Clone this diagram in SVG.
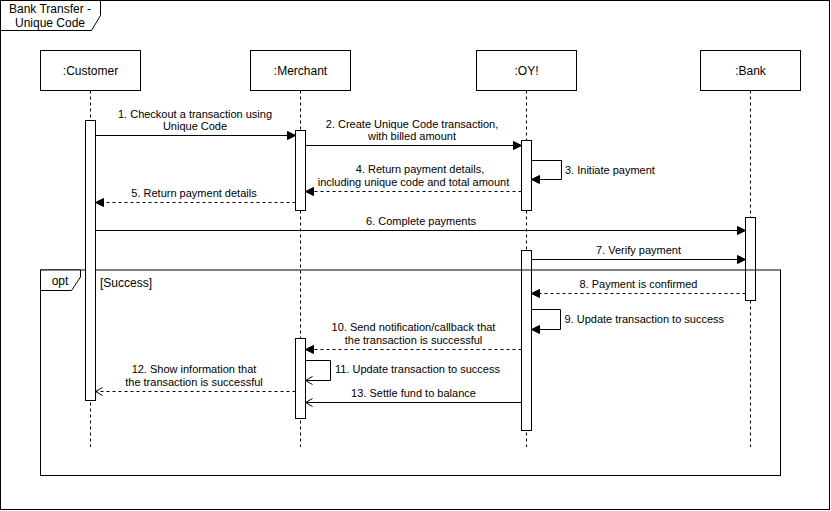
<svg xmlns="http://www.w3.org/2000/svg" width="831" height="511" viewBox="0 0 831 511">
<style>
  .frame{fill:none;stroke:#000;stroke-width:1}
  .lbl{fill:#fff;stroke:#000;stroke-width:1}
  .box{fill:#fff;stroke:#000;stroke-width:1}
  .life{stroke:#000;stroke-width:1;stroke-dasharray:3 3;fill:none}
  .act{fill:#fff;stroke:#000;stroke-width:1}
  .msg{fill:none;stroke:#000;stroke-width:1}
  .ret{fill:none;stroke:#000;stroke-width:1;stroke-dasharray:3 3}
  text{font-family:"Liberation Sans",Arial,Helvetica,sans-serif;fill:#000}
  .t12{font-size:12px}
  .t11{font-size:11px}
  .c{text-anchor:middle}
</style>
<defs>
  <marker id="block" viewBox="-9 -5 10 10" refX="0" refY="0" markerWidth="10" markerHeight="10" markerUnits="userSpaceOnUse" orient="auto">
    <path d="M0,0 L-8,-4 L-8,4 Z" fill="#000" stroke="#000" stroke-width="1" stroke-dasharray="none"/>
  </marker>
  <marker id="open" viewBox="-9 -6 10 12" refX="0" refY="0" markerWidth="10" markerHeight="12" markerUnits="userSpaceOnUse" orient="auto">
    <path d="M-7,-4 L0,0 L-7,4" fill="none" stroke="#000" stroke-width="1" stroke-dasharray="none"/>
  </marker>
</defs>
<rect width="831" height="511" fill="#fff"/>

<g id="outer-frame">
  <rect class="frame" x="0.5" y="0.5" width="829" height="509"/>
  <path class="lbl" d="M0.5,0.5 H100.5 V15.5 L91.5,30.5 H0.5 Z"/>
  <text class="t12 c" x="50" y="12.7">Bank Transfer -</text>
  <text class="t12 c" x="50" y="27">Unique Code</text>
</g>

<g id="customer">
  <line class="life" x1="90.5" y1="90.5" x2="90.5" y2="447"/>
  <rect class="box" x="40.5" y="50.5" width="100" height="40"/>
  <text class="t12 c" x="90.5" y="74.5">:Customer</text>
</g>
<g id="merchant">
  <line class="life" x1="300.5" y1="90.5" x2="300.5" y2="447"/>
  <rect class="box" x="250.5" y="50.5" width="100" height="40"/>
  <text class="t12 c" x="300.5" y="74.5">:Merchant</text>
</g>
<g id="oy">
  <line class="life" x1="526.5" y1="90.5" x2="526.5" y2="447"/>
  <rect class="box" x="476.5" y="50.5" width="100" height="40"/>
  <text class="t12 c" x="526.5" y="74.5">:OY!</text>
</g>
<g id="bank">
  <line class="life" x1="750.5" y1="90.5" x2="750.5" y2="447"/>
  <rect class="box" x="700.5" y="50.5" width="100" height="40"/>
  <text class="t12 c" x="750.5" y="74.5">:Bank</text>
</g>

<g id="activations-back">
  <rect id="merchant-act1" class="act" x="295.5" y="130.5" width="10" height="80"/>
  <rect id="oy-act1" class="act" x="521.5" y="140.5" width="10" height="70"/>
  <rect id="bank-act" class="act" x="745.5" y="217.5" width="10" height="83"/>
  <rect id="oy-act2" class="act" x="521.5" y="250.5" width="10" height="180"/>
</g>

<g id="opt-frame">
  <rect class="frame" x="40.5" y="270" width="740" height="205.5"/>
  <path class="lbl" d="M40.5,270 H80.5 V277 L71.5,290.5 H40.5 Z"/>
  <text class="t12 c" x="60" y="285">opt</text>
  <text class="t12" x="100" y="286.5">[Success]</text>
</g>

<g id="activations-front">
  <rect id="customer-act" class="act" x="85.5" y="120.5" width="10" height="280"/>
  <rect id="merchant-act2" class="act" x="295.5" y="338.5" width="10" height="80"/>
</g>

<g id="connectors">
  <!-- 1 -->
  <line class="msg" x1="95.5" y1="135.5" x2="295.5" y2="135.5" marker-end="url(#block)"/>
  <text class="t11 c" x="195" y="117.5">1. Checkout a transaction using</text>
  <text class="t11 c" x="195" y="130">Unique Code</text>
  <!-- 2 -->
  <line class="msg" x1="305.5" y1="145.5" x2="521.5" y2="145.5" marker-end="url(#block)"/>
  <text class="t11 c" x="412" y="127.5">2. Create Unique Code transaction,</text>
  <text class="t11 c" x="412" y="140">with billed amount</text>
  <!-- 3 -->
  <path class="msg" d="M531.5,160.5 H561.5 V179.5 H531.5" marker-end="url(#block)"/>
  <text class="t11" x="565" y="174">3. Initiate payment</text>
  <!-- 4 -->
  <line class="ret" x1="521.5" y1="191.5" x2="305.5" y2="191.5" marker-end="url(#block)"/>
  <text class="t11 c" x="420" y="173">4. Return payment details,</text>
  <text class="t11 c" x="413.5" y="185.5">including unique code and total amount</text>
  <!-- 5 -->
  <line class="ret" x1="295.5" y1="202.5" x2="95.5" y2="202.5" marker-end="url(#block)"/>
  <text class="t11 c" x="194" y="196.5">5. Return payment details</text>
  <!-- 6 -->
  <line class="msg" x1="95.5" y1="230.5" x2="745.5" y2="230.5" marker-end="url(#block)"/>
  <text class="t11 c" x="421" y="224.5">6. Complete payments</text>
  <!-- 7 -->
  <line class="msg" x1="531.5" y1="259.5" x2="745.5" y2="259.5" marker-end="url(#block)"/>
  <text class="t11 c" x="638.5" y="253.5">7. Verify payment</text>
  <!-- 8 -->
  <line class="ret" x1="745.5" y1="293.5" x2="531.5" y2="293.5" marker-end="url(#block)"/>
  <text class="t11 c" x="638.5" y="287.5">8. Payment is confirmed</text>
  <!-- 9 -->
  <path class="msg" d="M531.5,309.5 H560.5 V329.5 H531.5" marker-end="url(#block)"/>
  <text class="t11" x="564.5" y="323">9. Update transaction to success</text>
  <!-- 10 -->
  <line class="ret" x1="521.5" y1="349.5" x2="305.5" y2="349.5" marker-end="url(#block)"/>
  <text class="t11 c" x="413.5" y="331">10. Send notification/callback that</text>
  <text class="t11 c" x="413.5" y="343.5">the transaction is successful</text>
  <!-- 11 -->
  <path class="msg" d="M305.5,360.5 H330.5 V380.5 H305.5" marker-end="url(#open)"/>
  <text class="t11" x="335" y="373">11. Update transaction to success</text>
  <!-- 12 -->
  <line class="ret" x1="295.5" y1="391.5" x2="95.5" y2="391.5" marker-end="url(#open)"/>
  <text class="t11 c" x="194" y="373">12. Show information that</text>
  <text class="t11 c" x="194" y="385.5">the transaction is successful</text>
  <!-- 13 -->
  <line class="msg" x1="521.5" y1="402.5" x2="305.5" y2="402.5" marker-end="url(#open)"/>
  <text class="t11 c" x="413.5" y="396.5">13. Settle fund to balance</text>
</g>
</svg>
